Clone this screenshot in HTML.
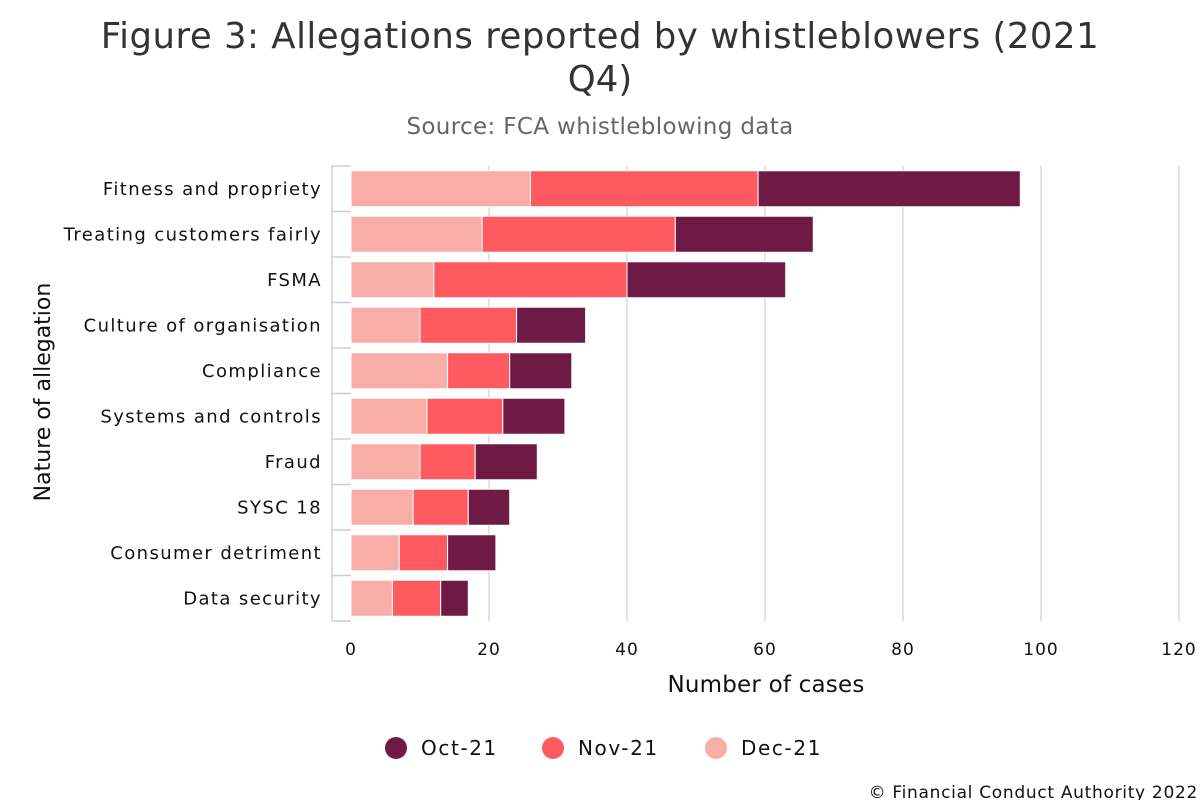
<!DOCTYPE html>
<html><head><meta charset="utf-8"><style>
body{margin:0;background:#fff;width:1200px;height:800px;overflow:hidden;font-family:"DejaVu Sans","Liberation Sans",sans-serif;}
</style></head><body>
<svg id="chart" width="1200" height="800" xmlns="http://www.w3.org/2000/svg" font-family="DejaVu Sans, Liberation Sans, sans-serif">
<text x="600" y="48" text-anchor="middle" font-size="35.5" letter-spacing="0.5" fill="#333">Figure 3: Allegations reported by whistleblowers (2021</text>
<text x="600" y="91" text-anchor="middle" font-size="35.5" fill="#333">Q4)</text>
<text x="600" y="134" text-anchor="middle" font-size="23" letter-spacing="0.35" fill="#666">Source: FCA whistleblowing data</text>
<g id="grid"></g><g id="bars"></g><g id="axes"></g>
<text x="766" y="692" text-anchor="middle" font-size="23" letter-spacing="0.2" fill="#111">Number of cases</text>
<text transform="translate(50,392) rotate(-90)" text-anchor="middle" font-size="22" fill="#111">Nature of allegation</text>
<g id="legend"></g>
<text x="1198" y="798" text-anchor="end" font-size="17" letter-spacing="0.7" fill="#111">© Financial Conduct Authority 2022</text>
</svg>
<script>
const categories=["Fitness and propriety","Treating customers fairly","FSMA","Culture of organisation","Compliance","Systems and controls","Fraud","SYSC 18","Consumer detriment","Data security"];
const dec21=[26,19,12,10,14,11,10,9,7,6];
const nov21=[33,28,28,14,9,11,8,8,7,7];
const oct21=[38,20,23,10,9,9,9,6,7,4];
const xTicks=[0,20,40,60,80,100,120];
const seriesNames=["Dec-21","Nov-21","Oct-21"];
const colors={"Dec-21":"#f8aea7","Nov-21":"#ff5a5f","Oct-21":"#6e1a45"};
const NS="http://www.w3.org/2000/svg";
const x0=351,pxPer=6.9,topY=166,band=45.5;
const xs=v=>x0+v*pxPer;
const yc=i=>topY+band*(i+0.5);
function mk(tag,attrs,parent){const e=document.createElementNS(NS,tag);for(const k in attrs)e.setAttribute(k,attrs[k]);parent.appendChild(e);return e;}
const grid=document.getElementById('grid'),bars=document.getElementById('bars'),axes=document.getElementById('axes'),legend=document.getElementById('legend');
xTicks.forEach(t=>{
 if(t>0){const l=mk('line',{x1:xs(t),x2:xs(t),y1:topY,y2:topY+band*10,stroke:'#e3e3e3','stroke-width':2},grid);
 
 }
 const tx=mk('text',{x:xs(t),y:655,'text-anchor':'middle','font-size':17,'letter-spacing':1,fill:'#111'},axes);tx.textContent=t;
 
 
});
const ax=mk('line',{x1:332,x2:332,y1:topY,y2:topY+band*10,stroke:'#c8cde6','stroke-width':1.5},axes);


const series={"Dec-21":dec21,"Nov-21":nov21,"Oct-21":oct21};
categories.forEach((c,i)=>{
 let acc=0;
 seriesNames.forEach(s=>{const v=series[s][i];
  const r=mk('rect',{x:xs(acc),y:yc(i)-18,width:v*pxPer,height:36,fill:colors[s],stroke:'#fff','stroke-width':1},bars);
  
  
  acc+=v;});
 const tk=mk('line',{x1:332,x2:351,y1:topY+band*i,y2:topY+band*i,stroke:'#c8cde6','stroke-width':1.5},axes);
 
 
 const lb=mk('text',{x:322,y:yc(i)+6,'text-anchor':'end','font-size':18,'letter-spacing':1.4,fill:'#111'},axes);lb.textContent=c;
 
 
});
const bt=mk('line',{x1:332,x2:351,y1:topY+band*10,y2:topY+band*10,stroke:'#c8cde6','stroke-width':1.5},axes);


const legItems=[["Oct-21",396,421],["Nov-21",553,578],["Dec-21",716,741]];
legItems.forEach(([s,cx,tx])=>{
 const g=mk('g',{},legend);
 
 
 mk('circle',{cx:cx,cy:748,r:11,fill:colors[s]},g);
 const t=mk('text',{x:tx,y:755,'font-size':20,'letter-spacing':1.6,fill:'#111'},g);t.textContent=s;
});
</script>
</body></html>
